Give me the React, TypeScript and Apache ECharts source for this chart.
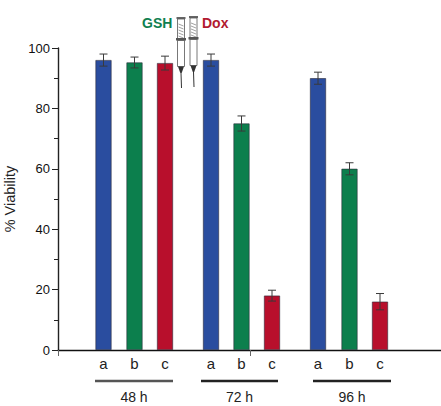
import React, { useEffect, useRef } from "react";
import * as echarts from "echarts";

const barPositions = [45.5, 76.5, 107, 153, 183.5, 214, 260, 291.5, 322];
const barLetters = ["a", "b", "c", "a", "b", "c", "a", "b", "c"];
const viability = [96, 95.2, 95, 96, 75, 18, 90, 60, 16];
const errors = [2, 1.8, 2.3, 2, 2.5, 1.8, 2, 2, 2.7];
const barColors = ["#2a4d9f", "#0c7f4d", "#b80f2c"];
const seriesNames = ["a", "b", "c"];
const groupLabels = ["48 h", "72 h", "96 h"];
const groupStart = [37, 143, 255];
const groupEnd = [115, 220, 333];
const groupLineColors = ["#555555", "#222222", "#222222"];
const xTickValues = [0, 192];
const FONT = "Liberation Sans";

function Syringe(x: number, top: number) {
  const c = "#333333";
  const hatch = [];
  for (let i = 0; i < 6; i++) {
    hatch.push({ type: "line", shape: { x1: x - 2.5, y1: top + 7 + i * 3, x2: x + 2.5, y2: top + 9 + i * 3 }, style: { stroke: "#888", lineWidth: 0.8 } });
  }
  return {
    type: "group",
    silent: true,
    z: 50,
    children: [
      { type: "rect", shape: { x: x - 4.5, y: top, width: 9, height: 2 }, style: { fill: "#666" } },
      { type: "rect", shape: { x: x - 3.5, y: top + 2, width: 7, height: 22 }, style: { fill: "#fff", stroke: "#555", lineWidth: 0.8 } },
      ...hatch,
      { type: "rect", shape: { x: x - 5, y: top + 21, width: 10, height: 2.5 }, style: { fill: "#555" } },
      { type: "rect", shape: { x: x - 3.5, y: top + 23.5, width: 7, height: 26 }, style: { fill: "#fff", stroke: "#555", lineWidth: 0.8 } },
      { type: "polygon", shape: { points: [[x - 3, top + 49.5], [x + 3, top + 49.5], [x + 0.7, top + 56], [x - 0.7, top + 56]] }, style: { fill: c } },
      { type: "line", shape: { x1: x, y1: top + 56, x2: x + 0.5, y2: top + 71 }, style: { stroke: c, lineWidth: 1 } },
    ],
  };
}

export default function App() {
  const ref = useRef<HTMLDivElement>(null);
  useEffect(() => {
    document.body.style.margin = "0";
    const chart = echarts.init(ref.current!, null, { renderer: "svg" });
    const barSeries = seriesNames.map((name, k) => ({
      type: "bar",
      name,
      barWidth: 16,
      barGap: "-100%",
      data: barPositions.map((x, i) => (i % 3 === k ? [x, viability[i]] : null)).filter(Boolean),
      itemStyle: { color: barColors[k], borderColor: "#2b2b3a", borderWidth: 0.6 },
      z: 2,
    }));
    chart.setOption({
      animation: false,
      backgroundColor: "#ffffff",
      grid: { left: 58, right: 0, top: 48, bottom: 56, outerBoundsMode: "none" },
      xAxis: {
        type: "value",
        min: 0,
        max: 383,
        splitLine: { show: false },
        axisLine: { show: true, onZero: false, lineStyle: { color: "#111", width: 1.4 } },
        axisTick: { show: true, length: 6, customValues: xTickValues, lineStyle: { color: "#666", width: 1 } },
        minorTick: { show: false },
        axisLabel: {
          show: true,
          customValues: barPositions,
          margin: 6,
          color: "#222",
          fontFamily: FONT,
          fontSize: 15,
          hideOverlap: false,
          formatter: (v: number) => barLetters[barPositions.indexOf(v)] ?? "",
        },
      },
      yAxis: {
        type: "value",
        min: 0,
        max: 100,
        interval: 20,
        name: "% Viability",
        nameLocation: "middle",
        nameGap: 38,
        nameTextStyle: { fontFamily: FONT, fontSize: 14.5, color: "#222" },
        splitLine: { show: false },
        axisLine: { show: true, lineStyle: { color: "#222", width: 1.4 } },
        axisTick: { show: true, length: 6, lineStyle: { color: "#222", width: 1 } },
        minorTick: { show: true, splitNumber: 2, length: 4, lineStyle: { color: "#222", width: 1 } },
        axisLabel: { margin: 8, color: "#111", fontFamily: FONT, fontSize: 13 },
      },
      series: [
        ...barSeries,
        {
          type: "custom",
          name: "error",
          z: 5,
          silent: true,
          data: barPositions.map((x, i) => [x, viability[i], errors[i]]),
          renderItem: (_: any, api: any) => {
            const x = api.value(0), y = api.value(1), e = api.value(2);
            const hi = api.coord([x, y + e]);
            const lo = api.coord([x, y - e]);
            const st = { stroke: "#3a3a3a", lineWidth: 1 };
            return {
              type: "group",
              children: [
                { type: "line", shape: { x1: hi[0], y1: hi[1], x2: lo[0], y2: lo[1] }, style: st },
                { type: "line", shape: { x1: hi[0] - 4, y1: hi[1], x2: hi[0] + 4, y2: hi[1] }, style: st },
                { type: "line", shape: { x1: lo[0] - 4, y1: lo[1], x2: lo[0] + 4, y2: lo[1] }, style: st },
              ],
            };
          },
        },
        {
          type: "custom",
          name: "groups",
          silent: true,
          clip: false,
          data: groupLabels.map((g, i) => [groupStart[i], groupEnd[i], i]),
          renderItem: (_: any, api: any) => {
            const a = api.coord([api.value(0), 0]);
            const b = api.coord([api.value(1), 0]);
            const i = api.value(2);
            return {
              type: "group",
              children: [
                { type: "line", shape: { x1: a[0], y1: a[1] + 31, x2: b[0], y2: b[1] + 31 }, style: { stroke: groupLineColors[i], lineWidth: 2.5 } },
                { type: "text", style: { x: (a[0] + b[0]) / 2, y: a[1] + 47, text: groupLabels[i], align: "center", verticalAlign: "middle", fill: "#222", font: `14px "${FONT}"` } },
              ],
            };
          },
        },
      ],
      graphic: [
        { type: "text", silent: true, x: 142, y: 16, style: { text: "GSH", fill: "#0f8050", font: `bold 14px "${FONT}"` } },
        { type: "text", silent: true, x: 202, y: 16, style: { text: "Dox", fill: "#b21a30", font: `bold 14px "${FONT}"` } },
        Syringe(181, 17),
        Syringe(193.5, 16),
      ],
    });
    return () => chart.dispose();
  }, []);
  return <div ref={ref} style={{ width: 441, height: 406 }} />;
}
